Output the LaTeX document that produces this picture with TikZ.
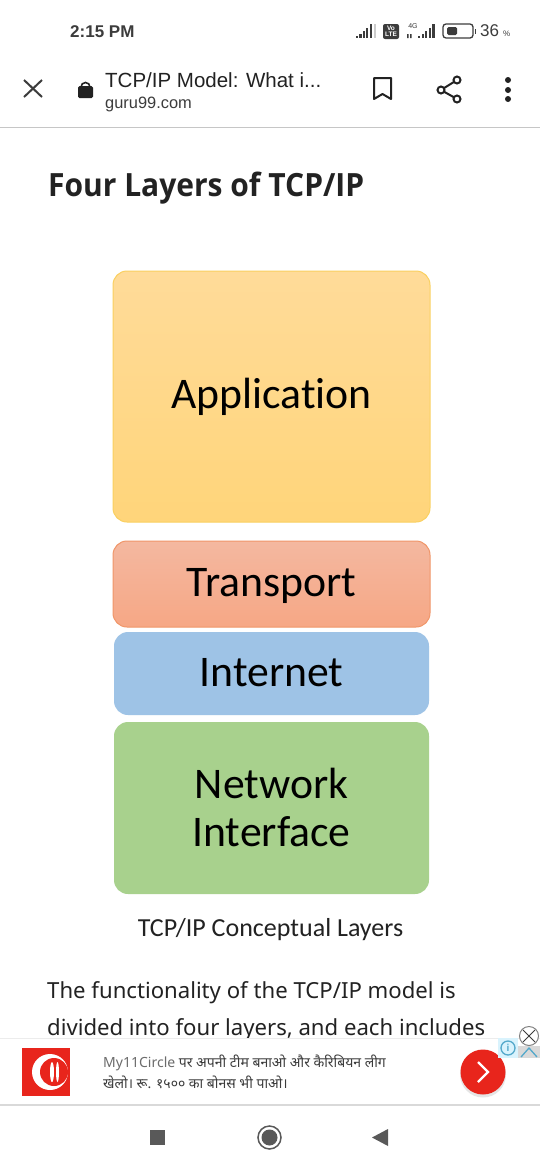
\documentclass[tikz,border=0pt]{standalone}
\usepackage{fontspec}
\setmainfont{Noto Sans}
\newfontfamily\robotolike{Liberation Sans}
\newfontfamily\calibrilike[Ligatures=NoCommon]{Carlito}
\newfontfamily\headfont{Open Sans}
\newfontfamily\deva[Script=Devanagari]{Noto Sans}
\definecolor{ink}{HTML}{222222}
\definecolor{icon}{HTML}{3C3C3C}
\definecolor{adred}{HTML}{E8251C}
\tikzset{
  layer/.style={draw,rounded corners=14pt,minimum width=#1,inner sep=0pt,align=center,
    font=\calibrilike\fontsize{43.7}{48}\selectfont,text=black,line width=1pt},
  uitext/.style={inner sep=0pt,anchor=west,text=ink,font=\robotolike\fontsize{20.5}{22}\selectfont},
}
\begin{document}
\begin{tikzpicture}[x=1pt,y=-1pt]
  \useasboundingbox (0,0) rectangle (540,1170);
  \path[fill=white] (0,0) rectangle (540,1170);

  % status bar
  \node[uitext,font=\robotolike\bfseries\fontsize{17}{20}\selectfont,text=icon] (clock) at (70,32) {2:15 PM};
  \foreach \i/\h in {0/2,1/4,2/7,3/10,4/14} {
    \fill[icon] (356+\i*3.4,38) rectangle ++(2.2,-\h);
    \fill[icon] (418+\i*3.6,38) rectangle ++(2.2,-\h);
  }
  \fill[gray!40] (373.5,24) rectangle (375.5,38);
  \fill[icon] (407,38) rectangle (408.5,34) (410,38) rectangle (411.5,34);
  \node[fill=icon,rounded corners=2pt,minimum width=16pt,minimum height=15pt,inner sep=0pt,align=center,
    text=white,font=\robotolike\bfseries\fontsize{6.5}{7}\selectfont] (volte) at (391,31.5) {Vo\\[-1pt]LTE};
  \node[inner sep=0pt,text=icon,font=\robotolike\fontsize{7}{8}\selectfont] (fourg) at (413,26) {4G};
  \draw[icon,line width=1.3pt,rounded corners=3pt] (443,24) rectangle (473,38);
  \fill[icon,rounded corners=1.5pt] (447,27) rectangle (457,35);
  \fill[icon] (474.5,28.5) rectangle (476,33.5);
  \node[uitext,font=\robotolike\fontsize{17}{20}\selectfont,text=icon] (batt) at (480,31) {36};
  \node[uitext,font=\robotolike\fontsize{8}{10}\selectfont,text=icon] (pct) at (503,34) {\%};

  % browser bar
  \draw[icon,line width=2pt] (24,80) -- (42,97) (42,80) -- (24,97);
  \fill[ink,rounded corners=1.5pt] (78,86) rectangle (93,98);
  \draw[ink,line width=1.6pt] (81,87) arc[start angle=180,end angle=360,radius=4.5];
  \node[uitext] (pagetitle) at (105,80) {TCP/IP Model: What i...};
  \node[uitext,font=\robotolike\fontsize{16.4}{18}\selectfont,text=icon] (site) at (105,104) {guru99.com};
  \draw[ink,line width=2pt,line join=round] (374,78) -- (391,78) -- (391,99) -- (382.5,94) -- (374,99) -- cycle;
  \draw[ink,line width=2pt] (457,80) -- (441,90) -- (457,99);
  \foreach \cx/\cy in {457/80,441/90,457/99} {
    \draw[ink,line width=2pt,fill=white] (\cx,\cy) circle[radius=3.5];
  }
  \foreach \cy in {80,90,99} {
    \fill[ink] (508,\cy) circle[radius=3];
  }
  \draw[gray!45,line width=1pt] (0,127.5) -- (540,127.5);

  % page
  \node[inner sep=0pt,anchor=west,text=ink,font=\headfont\bfseries\fontsize{32}{38}\selectfont,xscale=.937] (head) at (48,188) {Four Layers of TCP/IP};

  \node[layer=317pt,minimum height=251pt,text height=34pt,text depth=10pt,draw={rgb,255:red,250;green,208;blue,96},top color={rgb,255:red,255;green,219;blue,153},bottom color={rgb,255:red,255;green,213;blue,122}] (app) at (271.5,396.5) {Application};
  \node[layer=317pt,minimum height=86pt,text height=34pt,text depth=10pt,draw={rgb,255:red,240;green,150;blue,105},top color={rgb,255:red,244;green,184;blue,160},bottom color={rgb,255:red,246;green,167;blue,133}] (trans) at (271.5,584) {Transport};
  \node[layer=315pt,minimum height=83pt,text depth=2pt,draw=none,fill={rgb,255:red,158;green,195;blue,230}] (inet) at (271.5,673.5) {Internet};
  \node[layer=315pt,minimum height=172pt,text depth=2pt,draw=none,fill={rgb,255:red,168;green,209;blue,141}] (netif) at (271.5,808) {Network\\Interface};

  \node[inner sep=0pt,text=ink,font=\calibrilike\fontsize{26}{30}\selectfont] (caption) at (270.5,930) {TCP/IP Conceptual Layers};
  \node[inner sep=0pt,anchor=west,text=ink,font=\fontsize{22.15}{26}\selectfont] (line1) at (47,993) {The functionality of the TCP/IP model is};
  \node[inner sep=0pt,anchor=west,text=ink,font=\fontsize{22.15}{26}\selectfont] (line2) at (47,1030) {divided into four layers, and each includes};

  % ad banner
  \path[fill=white] (0,1038) rectangle (540,1104);
  \draw[gray!15,line width=.8pt] (0,1038.5) -- (540,1038.5);
  \draw[gray!30,line width=2pt] (0,1105) -- (540,1105);
  \fill[adred] (22,1048) rectangle (70,1096);
  \fill[white] (50,1072) circle[radius=18];
  \fill[adred] (54,1072) circle[radius=14];
  \fill[white] (52,1072) ellipse[x radius=2,y radius=10];
  \fill[white] (57.5,1072) ellipse[x radius=1.5,y radius=10];
  \node[inner sep=0pt,anchor=west,text=gray!85!black,font=\deva\fontsize{14}{17}\selectfont] (adtop) at (103,1063) {My11Circle {\color{icon}पर अपनी टीम बनाओ और कैरिबियन लीग}};
  \node[inner sep=0pt,anchor=west,text=icon,font=\deva\fontsize{14}{17}\selectfont] (adbottom) at (103,1082) {खेलो। रू. १५०० का बोनस भी पाओ।};
  \fill[gray!25,opacity=.8] (483,1074.5) circle[radius=23];
  \fill[adred] (483,1072) circle[radius=22.5];
  \draw[white,line width=2.2pt] (478,1062) -- (488,1072) -- (478,1082);
  \fill[cyan!15] (498,1038) rectangle (518,1058);
  \draw[cyan!60!gray,line width=1.3pt] (508,1048) circle[radius=7];
  \node[inner sep=0pt,text=cyan!60!gray,font=\robotolike\bfseries\fontsize{10}{10}\selectfont] (adinfo) at (508,1048) {i};
  \fill[gray!30] (518,1046) rectangle (540,1058);
  \draw[cyan!60!gray,line width=1.3pt] (521,1057) -- (529,1048) -- (537,1057);
  \draw[gray,line width=1pt,fill=white] (529,1036) circle[radius=9.5];
  \draw[icon,line width=1pt] (523,1030) -- (535,1042) (535,1030) -- (523,1042);

  % nav bar
  \fill[icon!85] (150,1130) rectangle (165,1145);
  \draw[icon!85,line width=1.5pt] (269.5,1137.5) circle[radius=11.5];
  \fill[icon!85] (269.5,1137.5) circle[radius=8];
  \fill[icon!85] (388,1129) -- (388,1146) -- (372,1137.5) -- cycle;
\end{tikzpicture}
\end{document}
